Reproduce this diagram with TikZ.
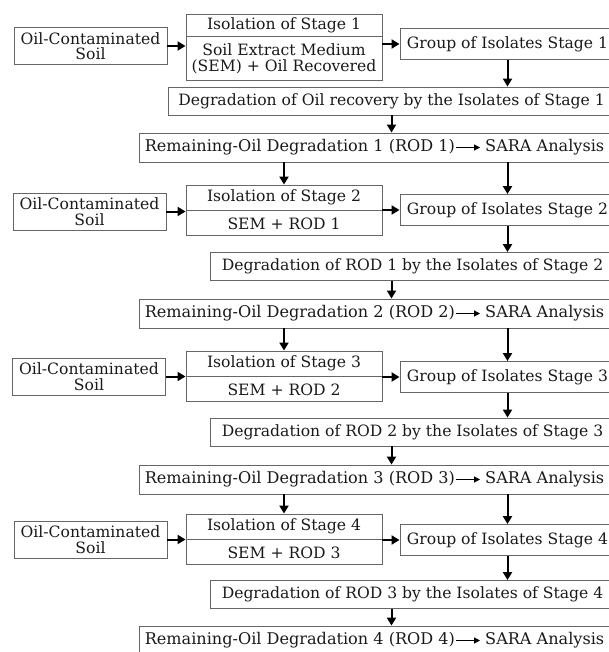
\documentclass[tikz,border=0pt]{standalone}
\usepackage{fontspec}
\setmainfont{DejaVu Serif}
\usetikzlibrary{arrows.meta}
\usetikzlibrary{positioning}
\tikzstyle{box} = [rectangle, draw=black!60, line width=0.9pt, inner sep=0pt, align=center, text=black!90]
\tikzstyle{iso} = [box, minimum width=196pt, minimum height=25pt]
\tikzstyle{soil} = [box, minimum width=153pt, minimum height=37pt]
\tikzstyle{group} = [box, minimum width=215pt, minimum height=31pt]
\tikzstyle{degr} = [box, minimum width=405pt, minimum height=28pt]
\tikzstyle{remain} = [box, minimum width=476pt, minimum height=29pt]
\tikzstyle{plain} = [inner sep=0pt, text height=11pt, text depth=3.5pt, text=black!90, font=\fontsize{16.1}{16}\selectfont]
\tikzstyle{link} = [-{Triangle[length=8pt,width=9pt]}, line width=2pt, draw]
\tikzstyle{small link} = [-{Triangle[length=6pt,width=6pt]}, line width=1pt, shorten <=1pt, shorten >=5pt]

\begin{document}
\begin{tikzpicture}[x=1pt, y=-1pt, font=\fontsize{15.6}{15.5}\selectfont, every edge/.style={link}]
  \useasboundingbox (0,0) rectangle (608,652);
  % stage 1
  \node[iso, minimum height=22pt] (iso1) at (284,25) {Isolation of Stage 1};
  \node[iso, minimum height=44pt] (med1) [below=0pt of iso1] {Soil Extract Medium\\(SEM) + Oil Recovered};
  \node[soil] (soil1) at (90.5,46) {Oil-Contaminated\\Soil};
  \node[group] (grp1) at (507.5,44) {Group of Isolates Stage 1};
  \node[degr, minimum width=447pt] (deg1) at (391.5,101) {Degradation of Oil recovery by the Isolates of Stage 1};
  \node[remain] (rem1) at (377,147.5) {};
  \node[plain, anchor=west] (rod1) at ([xshift=6pt]rem1.west) {Remaining-Oil Degradation 1 (ROD 1)};
  \node[plain, anchor=east] (sara1) at ([xshift=-11pt]rem1.east) {SARA Analysis};
  \draw (soil1) edge (soil1 -| med1.west)
        (grp1 -| med1.east) edge (grp1)
        (grp1) edge (grp1 |- deg1.north)
        (deg1) edge (deg1 |- rem1.north);
  \draw[small link] (rod1) -- (sara1);
  % stage 2
  \node[iso] (iso2) at (284,197.5) {Isolation of Stage 2};
  \node[iso] (med2) [below=0pt of iso2] {SEM + ROD 1};
  \node[soil] (soil2) at (89.5,211.5) {Oil-Contaminated\\Soil};
  \node[group] (grp2) at (507.5,210) {Group of Isolates Stage 2};
  \node[degr] (deg2) at (412.5,266.5) {Degradation of ROD 1 by the Isolates of Stage 2};
  \node[remain] (rem2) at (377,313.5) {};
  \node[plain, anchor=west] (rod2) at ([xshift=6pt]rem2.west) {Remaining-Oil Degradation 2 (ROD 2)};
  \node[plain, anchor=east] (sara2) at ([xshift=-11pt]rem2.east) {SARA Analysis};
  \draw (rem1.south -| iso2) edge (iso2)
        (rem1.south -| grp2) edge (grp2)
        (soil2) edge (soil2 -| med2.west)
        (grp2 -| med2.east) edge (grp2)
        (grp2) edge (grp2 |- deg2.north)
        (deg2.south -| deg1) edge (rem2.north -| deg1);
  \draw[small link] (rod2) -- (sara2);
  % stage 3
  \node[iso] (iso3) at (284,363.5) {Isolation of Stage 3};
  \node[iso] (med3) [below=0pt of iso3] {SEM + ROD 2};
  \node[soil] (soil3) at (89,376.5) {Oil-Contaminated\\Soil};
  \node[group] (grp3) at (507.5,377) {Group of Isolates Stage 3};
  \node[degr] (deg3) at (412.5,432) {Degradation of ROD 2 by the Isolates of Stage 3};
  \node[remain] (rem3) at (377,479.5) {};
  \node[plain, anchor=west] (rod3) at ([xshift=6pt]rem3.west) {Remaining-Oil Degradation 3 (ROD 3)};
  \node[plain, anchor=east] (sara3) at ([xshift=-11pt]rem3.east) {SARA Analysis};
  \draw (rem2.south -| iso3) edge (iso3)
        (rem2.south -| grp3) edge (grp3)
        (soil3) edge (soil3 -| med3.west)
        (grp3 -| med3.east) edge (grp3)
        (grp3) edge (grp3 |- deg3.north)
        (deg3.south -| deg1) edge (rem3.north -| deg1);
  \draw[small link] (rod3) -- (sara3);
  % stage 4
  \node[iso] (iso4) at (284,526.5) {Isolation of Stage 4};
  \node[iso] (med4) [below=0pt of iso4] {SEM + ROD 3};
  \node[soil] (soil4) at (90.5,539.5) {Oil-Contaminated\\Soil};
  \node[group] (grp4) at (507.5,540) {Group of Isolates Stage 4};
  \node[degr] (deg4) at (412.5,594.5) {Degradation of ROD 3 by the Isolates of Stage 4};
  \node[remain] (rem4) at (377,640.5) {};
  \node[plain, anchor=west] (rod4) at ([xshift=6pt]rem4.west) {Remaining-Oil Degradation 4 (ROD 4)};
  \node[plain, anchor=east] (sara4) at ([xshift=-11pt]rem4.east) {SARA Analysis};
  \draw (rem3.south -| iso4) edge (iso4)
        (rem3.south -| grp4) edge (grp4)
        (soil4) edge (soil4 -| med4.west)
        (grp4 -| med4.east) edge (grp4)
        (grp4) edge (grp4 |- deg4.north)
        (deg4.south -| deg1) edge (rem4.north -| deg1);
  \draw[small link] (rod4) -- (sara4);
\end{tikzpicture}
\end{document}
